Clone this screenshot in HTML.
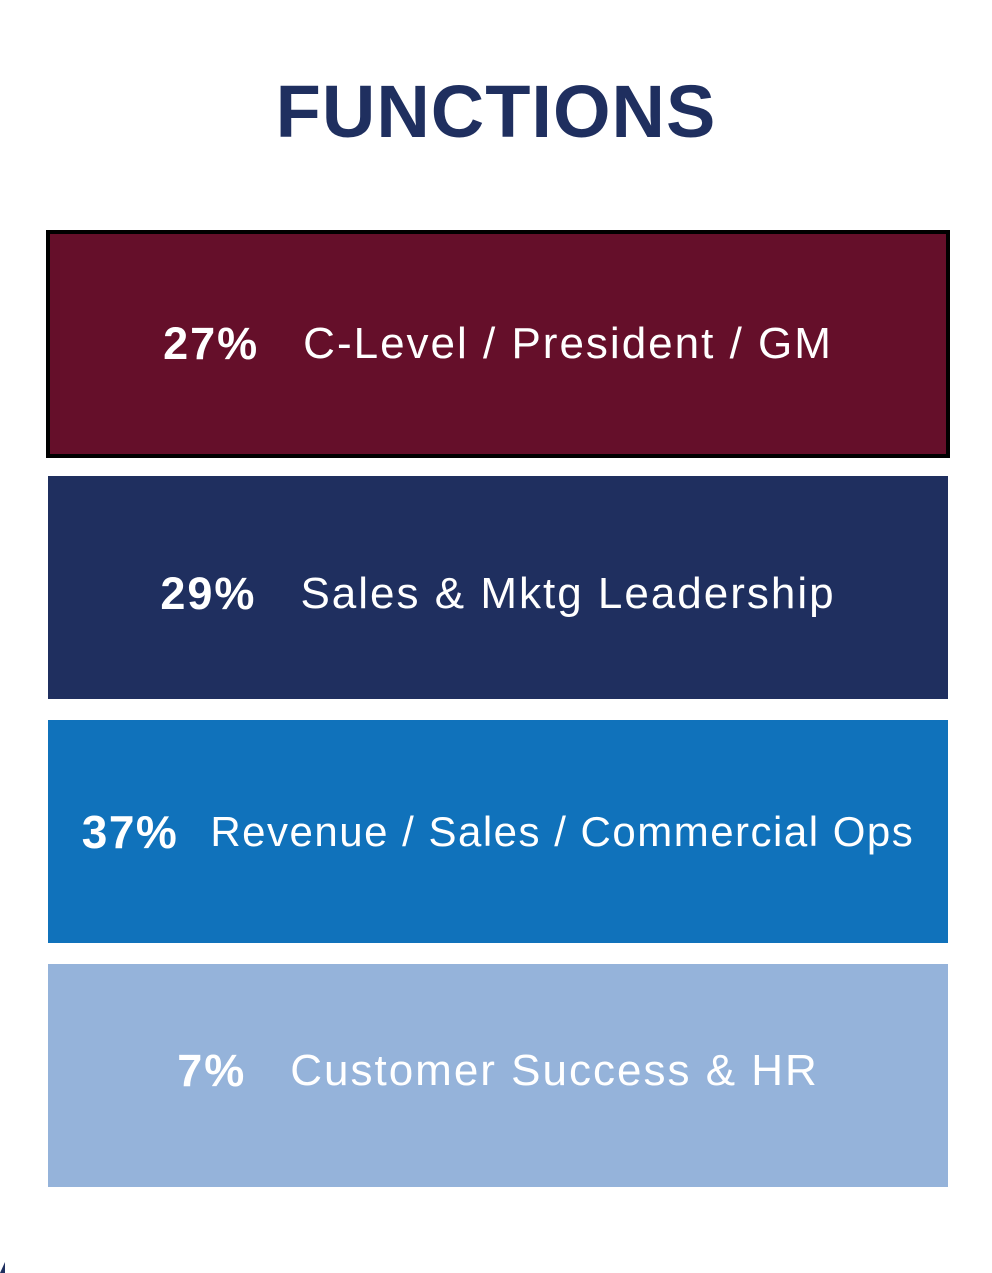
<!DOCTYPE html>
<html><head><style>
body{margin:0;width:992px;height:1273px;background:#fff;position:relative;overflow:hidden;font-family:"Liberation Sans",sans-serif}
h1{position:absolute;top:70px;left:0;width:992px;text-align:center;margin:0;font-size:74px;font-weight:bold;color:#1f2f5f;letter-spacing:1px;line-height:84px}
.b{position:absolute;left:48px;width:900px;display:flex;align-items:center;justify-content:center;color:#fff;font-size:44px;letter-spacing:2px;white-space:nowrap}
.b b{margin-right:44px;font-size:45px}
</style></head><body>
<h1>FUNCTIONS</h1>
<div class="b" style="left:46px;top:230px;width:896px;height:220px;background:#650f2a;border:4px solid #000"><b>27%</b>C-Level / President / GM</div>
<div class="b" style="background:#1f2f5f;top:476px;padding-top:12px;height:211px"><b>29%</b>Sales &amp; Mktg Leadership</div>
<div class="b" style="top:720px;height:223px;background:#1072bb;font-size:42px;letter-spacing:1.5px"><b style="font-size:46px;margin-right:32px">37%</b>Revenue / Sales / Commercial Ops</div>
<div class="b" style="top:964px;height:213px;padding-bottom:10px;background:#95b3da"><b>7%</b>Customer Success &amp; HR</div>
<div style="position:absolute;left:0;top:1262px;width:0;height:0;border-left:5px solid transparent;border-bottom:11px solid #1f2f5f"></div>
</body></html>
